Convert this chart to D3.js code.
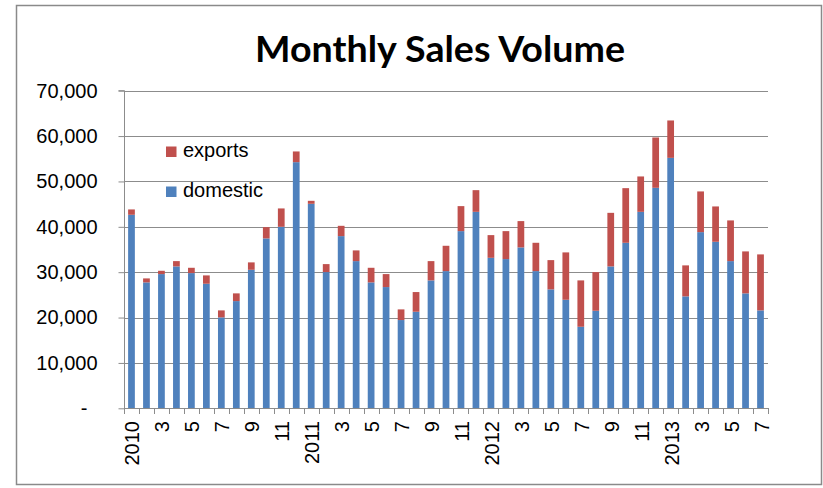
<!DOCTYPE html>
<html>
<head>
<meta charset="utf-8">
<script src="https://cdn.jsdelivr.net/npm/d3@7"></script>
<style>
  html, body { margin: 0; padding: 0; background: #fff; }
  svg { display: block; }
</style>
</head>
<body>
<svg id="chart" width="823" height="488"></svg>
<script>
// ---- data ----
const months = [];
for (let yr = 2010; yr <= 2013; yr++) {
  for (let m = 1; m <= 12; m++) {
    if (yr === 2013 && m > 7) break;
    months.push(yr + "-" + m);
  }
}
const domestic = [
  42650, 27750, 29580, 31270, 29800, 27450, 20040, 23630, 30530, 37440, 40000, 54250,
  45070, 30020, 37950, 32440, 27750, 26720, 19450, 21280, 28190, 30240, 39050, 43300,
  33170, 32890, 35460, 30240, 26210, 23920, 17970, 21500, 31270, 36480, 43300, 48600,
  55200, 24670, 38830, 36700, 32440, 25330, 21580
];
const exportsV = [
  1180, 880, 730, 1170, 1170, 1840, 1540, 1700, 1630, 2490, 4050, 2360,
  660, 1760, 2270, 2360, 3220, 2860, 2350, 4340, 4250, 5580, 5510, 4780,
  5000, 6160, 5800, 6240, 6450, 10440, 10220, 8520, 11810, 12040, 7800, 11090,
  8240, 6830, 8970, 7790, 8970, 9250, 12340
];
const yTicks = [0, 10000, 20000, 30000, 40000, 50000, 60000, 70000];
const seriesNames = ["domestic", "exports"];
const seriesColors = ["#4F81BD", "#C0504D"];
const chartTitle = "Monthly Sales Volume";

// ---- layout ----
const svg = d3.select("#chart");
const pLeft = 124, pRight = 768, pTop = 90.7, pBottom = 408.3;
const FONT = "'Liberation Sans', Arial, sans-serif";

svg.append("rect").attr("x", 16.5).attr("y", 5.5).attr("width", 805).attr("height", 479)
  .attr("fill", "#fff").attr("stroke", "#8a8a8a").attr("stroke-width", 1.5);

const x = d3.scaleBand().domain(months).range([pLeft, pRight]).paddingInner(0.55).paddingOuter(0.275);
const y = d3.scaleLinear().domain([0, 70000]).range([pBottom, pTop]);
const step = x.step();

// gridlines
svg.append("g").selectAll("line").data(yTicks.filter(d => d > 0)).join("line")
  .attr("x1", pLeft).attr("x2", pRight)
  .attr("y1", d => Math.round(y(d)) + 0.5).attr("y2", d => Math.round(y(d)) + 0.5)
  .attr("stroke", "#8c8c8c").attr("stroke-width", 1);

// stacked bars
const table = months.map((m, i) => ({ month: m, domestic: domestic[i], exports: exportsV[i] }));
const stack = d3.stack().keys(seriesNames)(table);
svg.append("g").selectAll("g").data(stack).join("g")
  .attr("fill", (d, i) => seriesColors[i])
  .selectAll("rect").data(d => d).join("rect")
  .attr("x", d => x(d.data.month))
  .attr("width", x.bandwidth())
  .attr("y", d => y(d[1]))
  .attr("height", d => y(d[0]) - y(d[1]));

// y axis
const yAxis = d3.axisLeft(y).tickValues(yTicks).tickSize(6).tickPadding(21)
  .tickFormat(d => d === 0 ? "-" : d3.format(",")(d));
const gy = svg.append("g").attr("transform", `translate(${pLeft + 0.5},0)`).call(yAxis);
gy.select(".domain").attr("stroke", "#8c8c8c").attr("d", `M-6,${y(70000)}H0V${pBottom}`);
gy.selectAll(".tick line").attr("stroke", "#8c8c8c");
gy.selectAll(".tick text").attr("font-family", FONT).attr("font-size", 20).attr("fill", "#000")
  .attr("dx", d => d === 0 ? -10 : 0);

// x axis
const gx = svg.append("g");
gx.append("line").attr("x1", pLeft).attr("x2", pRight)
  .attr("y1", Math.round(pBottom) + 0.5).attr("y2", Math.round(pBottom) + 0.5)
  .attr("stroke", "#8c8c8c");
const bounds = months.map(m => x(m) - (step - x.bandwidth()) / 2).concat([pRight]);
gx.selectAll("line.t").data(bounds).join("line").attr("class", "t")
  .attr("x1", d => Math.round(d) + 0.5).attr("x2", d => Math.round(d) + 0.5)
  .attr("y1", Math.round(pBottom)).attr("y2", Math.round(pBottom) + 6)
  .attr("stroke", "#8c8c8c");
const xLabels = months.map(m => {
  const [yr, mo] = m.split("-").map(Number);
  if (mo === 1) return String(yr);
  if (mo % 2 === 1) return String(mo);
  return "";
});
gx.selectAll("text").data(months.filter((m, i) => xLabels[i] !== "")).join("text")
  .attr("transform", d => `translate(${x(d) + x.bandwidth() / 2 + 8},421) rotate(-90)`)
  .attr("text-anchor", "end")
  .attr("font-family", FONT).attr("font-size", 20).attr("fill", "#000")
  .text(d => xLabels[months.indexOf(d)]);

// legend
const legendItems = [
  { name: "exports", color: seriesColors[1], y: 146.5 },
  { name: "domestic", color: seriesColors[0], y: 186.5 }
];
const lg = svg.append("g");
lg.selectAll("rect").data(legendItems).join("rect")
  .attr("x", 166).attr("y", d => d.y).attr("width", 10.5).attr("height", 10.5)
  .attr("fill", d => d.color);
lg.selectAll("text").data(legendItems).join("text")
  .attr("x", 183).attr("y", d => d.y + 10.5)
  .attr("font-family", FONT).attr("font-size", 20).attr("fill", "#000")
  .text(d => d.name);

// title
svg.append("text").attr("x", 440).attr("y", 62).attr("text-anchor", "middle")
  .attr("font-family", "Lato, 'Open Sans', sans-serif").attr("font-weight", "bold")
  .attr("font-size", 37).attr("fill", "#000")
  .attr("textLength", 370).attr("lengthAdjust", "spacingAndGlyphs")
  .text(chartTitle);
</script>
</body>
</html>
